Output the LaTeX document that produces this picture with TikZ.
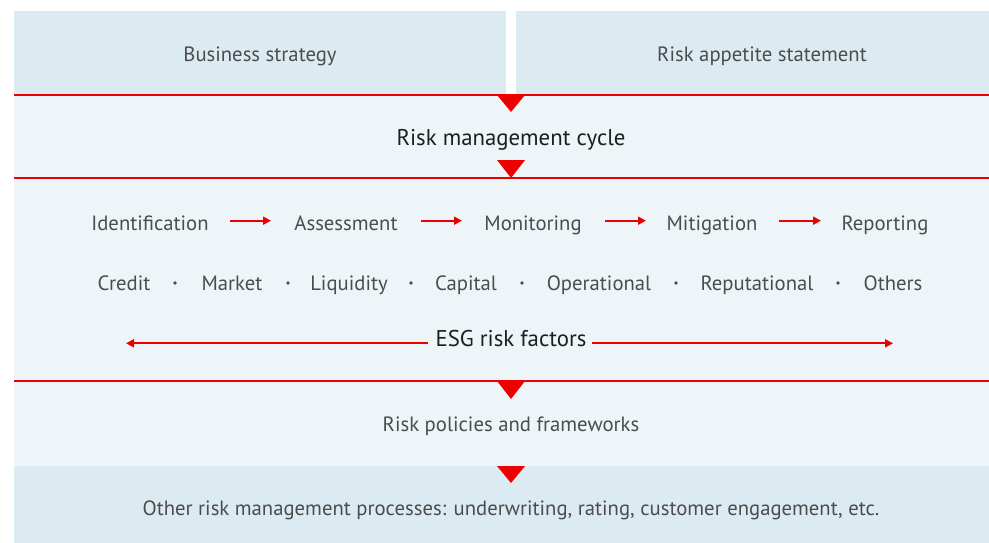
\documentclass[tikz,border=0pt]{standalone}
\usepackage{fontspec}
\setmainfont{PT Sans}
\newfontfamily\medfont{PT Sans}
\usetikzlibrary{arrows.meta}
\definecolor{topbg}{HTML}{DCEBF1}
\definecolor{panelbg}{HTML}{EDF5F9}
\definecolor{rred}{HTML}{EC0000}
\definecolor{txt}{HTML}{4C4C4C}
\definecolor{dtxt}{HTML}{1E1E1E}
\tikzset{
  lbl/.style={anchor=base, text=txt, font=\fontsize{20.7}{23}\selectfont, inner sep=0pt},
  hlbl/.style={anchor=base, text=dtxt, font=\medfont\fontsize{22.8}{25}\selectfont, inner sep=0pt},
  sep/.style={draw=rred, line width=1.5pt},
  tri/.style={fill=rred},
  flow/.style={draw=rred, line width=1.9pt, -{Triangle[length=8pt,width=8pt]}},
  dotmark/.style={circle, fill=txt, inner sep=0pt, minimum size=3.8pt},
}
\begin{document}
\begin{tikzpicture}[x=1pt,y=-1pt]
\useasboundingbox (0,0) rectangle (989,543);
% backgrounds
\fill[topbg] (14,11) rectangle (506,95);
\fill[topbg] (516,11) rectangle (989,95);
\fill[panelbg] (14,95) rectangle (989,466);
\fill[topbg] (14,466) rectangle (989,543);
% separators
\draw[sep] (14,95) -- (989,95);
\draw[sep] (14,178) -- (989,178);
\draw[sep] (14,381) -- (989,381);
% triangles
\fill[tri] (497,95) -- (525,95) -- (511,112) -- cycle;
\fill[tri] (497,160) -- (525,160) -- (511,178) -- cycle;
\fill[tri] (497,381) -- (525,381) -- (511,399) -- cycle;
\fill[tri] (497,466) -- (525,466) -- (511,483) -- cycle;
% texts
\node[lbl] (bs) at (260,61.5) {Business strategy};
\node[lbl] (ras) at (762,61.5) {Risk appetite statement};
\node[hlbl] (rmc) at (511,145) {Risk management cycle};
% process row
\node[lbl] (id) at (150,230) {Identification};
\node[lbl] (as) at (346,230) {Assessment};
\node[lbl] (mo) at (533,230) {Monitoring};
\node[lbl] (mi) at (712,230) {Mitigation};
\node[lbl] (re) at (885,230) {Reporting};
\coordinate (a1s) at (230,220.7); \coordinate (a1e) at (271,220.7);
\coordinate (a2s) at (421,220.7); \coordinate (a2e) at (462,220.7);
\coordinate (a3s) at (605,220.7); \coordinate (a3e) at (646,220.7);
\coordinate (a4s) at (779,220.7); \coordinate (a4e) at (821,220.7);
\draw[flow] (a1s) -- (a1e);
\draw[flow] (a2s) -- (a2e);
\draw[flow] (a3s) -- (a3e);
\draw[flow] (a4s) -- (a4e);
% risk row
\node[lbl] (cr) at (124,290) {Credit};
\node[lbl] (mk) at (232,290) {Market};
\node[lbl] (lq) at (349,290) {Liquidity};
\node[lbl] (cp) at (466,290) {Capital};
\node[lbl] (op) at (599,290) {Operational};
\node[lbl] (rp) at (757,290) {Reputational};
\node[lbl] (ot) at (893,290) {Others};
\node[dotmark] (d1) at (175,283) {};
\node[dotmark] (d2) at (288,283) {};
\node[dotmark] (d3) at (411,283) {};
\node[dotmark] (d4) at (522,283) {};
\node[dotmark] (d5) at (676,283) {};
\node[dotmark] (d6) at (838,283) {};
% ESG
\node[hlbl] (esg) at (511,346.7) {ESG risk factors};
\coordinate (el) at (126,343.3);
\coordinate (er) at (893,343.3);
\coordinate (esl) at (428,343.3);
\coordinate (esr) at (592,343.3);
\draw[flow] (esl) -- (el);
\draw[flow] (esr) -- (er);
% lower
\node[lbl] (rpf) at (511,431.7) {Risk policies and frameworks};
\node[lbl] (orm) at (511,515) {Other risk management processes: underwriting, rating, customer engagement, etc.};
\end{tikzpicture}
\end{document}
